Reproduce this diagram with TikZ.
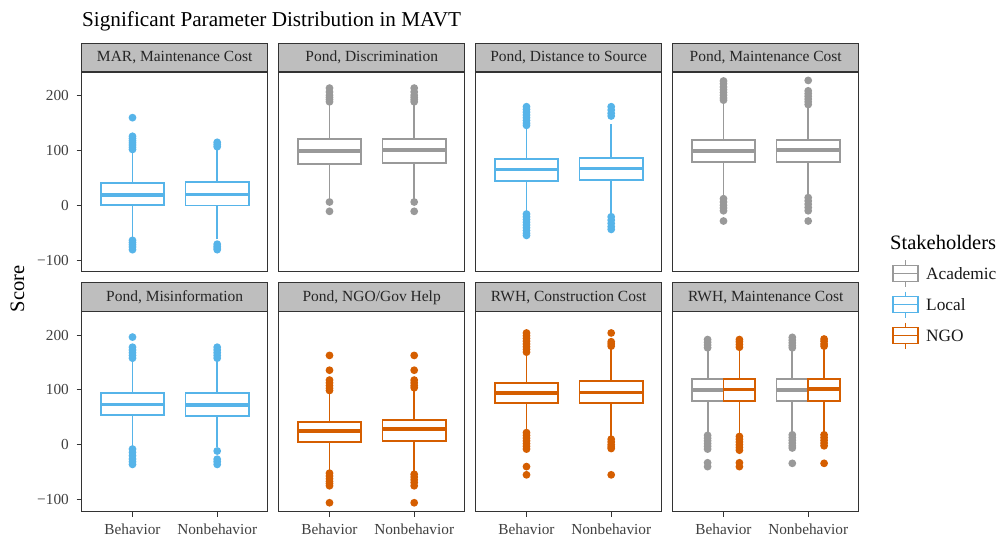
\documentclass[tikz,border=0pt]{standalone}
\usepackage{fontspec}
\setmainfont{Liberation Serif}
\definecolor{acad}{HTML}{999999}
\definecolor{locl}{HTML}{56B4E9}
\definecolor{ngoc}{HTML}{D55E00}
\definecolor{frame}{HTML}{333333}
\definecolor{stripfill}{HTML}{BEBEBE}
\newcommand{\fsz}[1]{\fontsize{#1pt}{#1pt}\selectfont}
% #1 x, #2 half width, #3 colour, #4 low whisker, #5 q1, #6 median, #7 q3, #8 high whisker, #9 outliers
\newcommand{\bxp}[9]{%
  \draw[draw=#3,wl] (#1,#4) -- (#1,#5) (#1,#7) -- (#1,#8);
  \draw[draw=#3,wl,fill=white] ({#1-#2},#5) rectangle ({#1+#2},#7);
  \draw[draw=#3,ml] ({#1-#2},#6) -- ({#1+#2},#6);
  \foreach \o in {#9} {\fill[fill=#3] (#1,\o) circle[radius=3.9pt];}
}
% legend key: #1 colour, #2 centre y
\newcommand{\lkey}[2]{%
  \draw[draw=#1,wl] (905.5,#2-13) -- (905.5,#2-8) (905.5,#2+8) -- (905.5,#2+13);
  \draw[draw=#1,wl,fill=white] (893.3,#2-8) rectangle (917.7,#2+8);
  \draw[draw=#1,wl] (893.3,#2) -- (917.7,#2);
}
\begin{document}
\begin{tikzpicture}[x=1pt,y=-1pt,
  wl/.style={line width=1.8pt},
  ml/.style={line width=3.6pt},
  panelframe/.style={draw=frame,line width=1.1pt},
  stripbox/.style={draw=frame,fill=stripfill,line width=1.1pt},
  tickmark/.style={draw=frame,line width=1.1pt},
  striptext/.style={anchor=base,inner sep=0pt,font=\fsz{15.5},text=black!85},
  ticktext/.style={inner sep=0pt,font=\fsz{15.3},text=black!75},
  keytext/.style={anchor=west,inner sep=0pt,font=\fsz{17.3},text=black!90}]
\useasboundingbox[fill=white] (0,0) rectangle (999,540);

% title
\node[anchor=base west,inner sep=0pt,font=\fsz{21.2}] (title) at (82,26.7) {Significant Parameter Distribution in MAVT};

% strips
\foreach \i/\t in {0/{MAR, Maintenance Cost},1/{Pond, Discrimination},2/{Pond, Distance to Source},3/{Pond, Maintenance Cost}}{
  \pgfmathsetmacro\L{81.7+197*\i}
  \draw[stripbox] (\L,43.3) rectangle ({\L+186},72);
  \node[striptext] (s1\i) at ({\L+93},62) {\t};
}
\foreach \i/\t in {0/{Pond, Misinformation},1/{Pond, NGO/Gov Help},2/{RWH, Construction Cost},3/{RWH, Maintenance Cost}}{
  \pgfmathsetmacro\L{81.7+197*\i}
  \draw[stripbox] (\L,282.7) rectangle ({\L+186},311.7);
  \node[striptext] (s2\i) at ({\L+93},301.5) {\t};
}

% row 1 boxes
\begin{scope}[yshift=-205.3pt,y=0.5477pt]
\bxp{132.5}{31.75}{locl}{-60}{0}{19}{40.5}{98}{160,126,122,118,114,110,106,102,-64,-68,-72,-76,-81}
\bxp{217.2}{31.75}{locl}{-62}{-0.5}{19.5}{42}{104}{115,111,107,-71,-75,-78,-81}
\bxp{329.5}{31.75}{acad}{12}{76}{99}{121}{186}{214,207,201,197,193,189,6,-11}
\bxp{414.2}{31.75}{acad}{12}{77}{101}{121}{186}{214,207,201,197,193,189,6,-11}
\bxp{526.5}{31.75}{locl}{-12}{45}{65.7}{85}{142}{180,175,170,165,160,155,150,146,-16,-21,-26,-31,-36,-41,-46,-51,-55}
\bxp{611.2}{31.75}{locl}{-17}{45.6}{67}{87}{149}{180,174,168,163,-21,-27,-33,-39,-44}
\bxp{723.5}{31.75}{acad}{17}{78.5}{99.6}{119.7}{186}{227,222,216,211,206,201,196,192,12,6,0,-5,-10,-28.7}
\bxp{808.2}{31.75}{acad}{18}{79.6}{101.5}{119.7}{180}{228,209,204,199,194,189,184,14,8,2,-4,-10,-28.7}
\end{scope}

% row 2 boxes
\begin{scope}[yshift=-444.7pt,y=0.5477pt]
\bxp{132.5}{31.75}{locl}{-4}{53.6}{73.7}{94.3}{153}{196.5,178,173,168,163,158,-8,-14,-20,-26,-31,-36}
\bxp{217.2}{31.75}{locl}{-4}{52.4}{72.4}{94.3}{154}{178,173,168,163,158,-11.5,-26.5,-31,-36}
\bxp{329.5}{31.75}{ngoc}{-49}{4.4}{25}{41.4}{95}{163,136,118,113,108,103,99,-52,-57,-62,-67,-71,-75,-106}
\bxp{414.2}{31.75}{ngoc}{-50}{7.4}{28.6}{45}{100}{163,136,118,113,108,104,-54,-59,-64,-69,-75,-106}
\bxp{526.5}{31.75}{ngoc}{25}{76.6}{94.3}{112.6}{165}{204,199,194,189,184,179,174,169,22,17,12,7,2,-3,-8,-40,-55}
\bxp{611.2}{31.75}{ngoc}{14}{76.6}{95.6}{116}{176}{204,188,184,180,10,5,0,-4,-7,-55}
\bxp{707.6}{15.9}{acad}{22}{80}{100}{120}{173}{192,187,182,177,17,12,7,2,-3,-8,-33,-40}
\bxp{739.4}{15.9}{ngoc}{20}{80}{101}{120}{173}{192,188,183,178,15,10,5,0,-5,-10,-33,-40}
\bxp{792.3}{15.9}{acad}{23}{80}{100}{120}{173}{196,191,186,181,177,18,13,8,3,-2,-6,-34}
\bxp{824.1}{15.9}{ngoc}{23}{80}{101.6}{120}{176}{193,189,184,180,18,13,8,3,-2,-34}
\end{scope}

% panel frames
\foreach \i in {0,1,2,3}{
  \pgfmathsetmacro\L{81.7+197*\i}
  \draw[panelframe] (\L,72) rectangle ({\L+186},271.7);
  \draw[panelframe] (\L,311.7) rectangle ({\L+186},511.7);
}

% y axis ticks and labels
\foreach \v/\lab in {200/200,100/100,0/0,-100/−100}{
  \pgfmathsetmacro\ya{205.3-0.5477*\v}
  \pgfmathsetmacro\yb{444.7-0.5477*\v}
  \draw[tickmark] (76.7,\ya) -- (81.7,\ya);
  \draw[tickmark] (76.7,\yb) -- (81.7,\yb);
  \node[ticktext,anchor=east] (ya\v) at (69,\ya) {\lab};
  \node[ticktext,anchor=east] (yb\v) at (69,\yb) {\lab};
}

% x axis ticks and labels
\foreach \i in {0,1,2,3}{
  \pgfmathsetmacro\xa{132.5+197*\i}
  \pgfmathsetmacro\xb{217.2+197*\i}
  \draw[tickmark] (\xa,511.7) -- (\xa,516.7);
  \draw[tickmark] (\xb,511.7) -- (\xb,516.7);
  \node[ticktext,anchor=base] (xa\i) at (\xa,534.5) {Behavior};
  \node[ticktext,anchor=base] (xb\i) at (\xb,534.5) {Nonbehavior};
}

% y axis title
\node[rotate=90,inner sep=0pt,font=\fsz{20.5}] (ytitle) at (17.5,289) {Score};

% legend
\node[anchor=base west,inner sep=0pt,font=\fsz{20.5}] (legtitle) at (890,250) {Stakeholders};
\lkey{acad}{273.5}
\lkey{locl}{304.5}
\lkey{ngoc}{335.5}
\node[keytext] (kacad) at (926,273.5) {Academic};
\node[keytext] (klocl) at (926,304.5) {Local};
\node[keytext] (kngo) at (926,335.5) {NGO};
\end{tikzpicture}
\end{document}
